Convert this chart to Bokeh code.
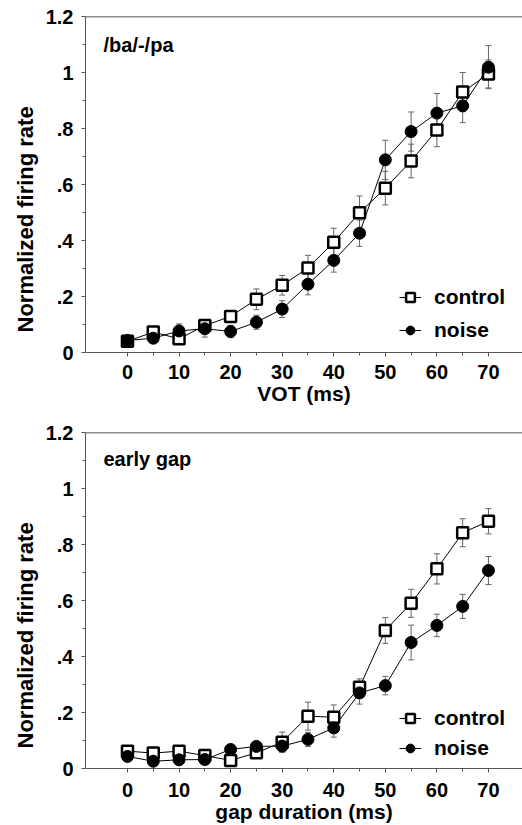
import numpy as np
from bokeh.plotting import figure
from bokeh.models import (ColumnDataSource, Whisker, TeeHead, FixedTicker, Span,
                          Label, Legend, LegendItem, Title)
from bokeh.layouts import column
from bokeh.embed import file_html
from bokeh.resources import INLINE

# ---------------- data ----------------
x_ms = [0, 5, 10, 15, 20, 25, 30, 35, 40, 45, 50, 55, 60, 65, 70]

vot_control = [0.040, 0.073, 0.049, 0.096, 0.129, 0.190, 0.240, 0.302, 0.394, 0.499,
               0.587, 0.684, 0.795, 0.930, 0.995]
vot_control_err = [0.012, 0.012, 0.010, 0.015, 0.020, 0.037, 0.035, 0.045, 0.050, 0.060,
                   0.060, 0.060, 0.060, 0.070, 0.050]
vot_noise = [0.043, 0.051, 0.077, 0.085, 0.075, 0.108, 0.155, 0.244, 0.329, 0.426,
             0.688, 0.789, 0.855, 0.881, 1.019]
vot_noise_err = [0.012, 0.010, 0.025, 0.030, 0.022, 0.025, 0.030, 0.038, 0.042, 0.047,
                 0.070, 0.070, 0.070, 0.060, 0.077]

gap_control = [0.062, 0.055, 0.062, 0.046, 0.029, 0.056, 0.094, 0.187, 0.183, 0.290,
               0.493, 0.590, 0.713, 0.842, 0.883]
gap_control_err = [0.010, 0.010, 0.010, 0.010, 0.010, 0.020, 0.036, 0.050, 0.044, 0.030,
                   0.046, 0.050, 0.054, 0.050, 0.045]
gap_noise = [0.043, 0.026, 0.031, 0.032, 0.068, 0.079, 0.080, 0.104, 0.145, 0.270,
             0.296, 0.450, 0.511, 0.579, 0.707]
gap_noise_err = [0.010, 0.010, 0.010, 0.010, 0.010, 0.015, 0.020, 0.025, 0.033, 0.040,
                 0.033, 0.062, 0.040, 0.043, 0.050]

x_ticks = [0, 10, 20, 30, 40, 50, 60, 70]
x_minor_ticks = [5, 15, 25, 35, 45, 55, 65]
y_ticks = [0, 0.2, 0.4, 0.6, 0.8, 1.0, 1.2]
y_tick_labels = ["0", ".2", ".4", ".6", ".8", "1", "1.2"]
y_minor_ticks = [0.1, 0.3, 0.5, 0.7, 0.9, 1.1]

series_labels = ["control", "noise"]
y_title = "Normalized firing rate"

FONT = "Liberation Sans"
AXIS_COLOR = "#555555"


def make_panel(panel_text, x_title, ctrl, ctrl_err, noise, noise_err,
               height, border_bottom, tick_standoff, title_standoff,
               legend_spacing, legend_bottom, panel_y):
    p = figure(width=522, height=height, x_range=(-8.14, 76.6), y_range=(0, 1.2),
               output_backend="svg", toolbar_location=None,
               min_border_left=85, min_border_right=0,
               min_border_top=16, min_border_bottom=border_bottom)
    p.outline_line_color = None
    p.grid.visible = False
    p.background_fill_color = "white"

    # axes
    p.xaxis.ticker = FixedTicker(ticks=x_ticks, minor_ticks=x_minor_ticks)
    p.yaxis.ticker = FixedTicker(ticks=y_ticks, minor_ticks=y_minor_ticks)
    p.yaxis.major_label_overrides = dict(zip(y_ticks, y_tick_labels))
    for ax in (p.xaxis[0], p.yaxis[0]):
        ax.axis_line_color = AXIS_COLOR
        ax.axis_line_width = 1
        ax.major_tick_line_color = AXIS_COLOR
        ax.minor_tick_line_color = AXIS_COLOR
        ax.major_tick_in = 0
        ax.minor_tick_in = 0
        ax.major_tick_out = 4
        ax.minor_tick_out = 3
        ax.major_label_text_font = FONT
        ax.major_label_text_font_style = "bold"
        ax.major_label_text_font_size = "20px"
        ax.major_label_text_color = "black"
        ax.axis_label_text_font = FONT
        ax.axis_label_text_font_style = "bold"
        ax.axis_label_text_color = "black"
    p.xaxis.axis_label = x_title
    p.xaxis.axis_label_text_font_size = "21px"
    p.xaxis.major_label_standoff = tick_standoff
    p.xaxis.axis_label_standoff = title_standoff
    p.yaxis.major_label_standoff = 8

    # y title, shifted below the frame centre as in the reference
    p.add_layout(Title(text=y_title, align="left", offset=20, standoff=10,
                       text_font=FONT, text_font_style="bold",
                       text_font_size="22px", text_color="black"), "left")

    # top border line
    p.add_layout(Span(location=1.2, dimension="width", line_color="#222222",
                      line_width=1.5))

    # error bars
    xs = np.array(x_ms, dtype=float)
    for vals, errs in ((ctrl, ctrl_err), (noise, noise_err)):
        v = np.array(vals)
        e = np.array(errs)
        src = ColumnDataSource(dict(base=xs, upper=v + e, lower=v - e))
        w = Whisker(base="base", upper="upper", lower="lower", source=src,
                    line_color="#666666", line_width=1,
                    upper_head=TeeHead(size=6, line_color="#666666", line_width=1),
                    lower_head=TeeHead(size=6, line_color="#666666", line_width=1))
        p.add_layout(w)

    lc = p.line(x_ms, ctrl, line_color="black", line_width=1)
    sc = p.scatter(x_ms, ctrl, marker="square", size=11, fill_color="white",
                   line_color="black", line_width=2.5)
    ln = p.line(x_ms, noise, line_color="black", line_width=1)
    sn = p.scatter(x_ms, noise, marker="circle", size=12, fill_color="black",
                   line_color="black", line_width=1)

    legend = Legend(items=[LegendItem(label=series_labels[0], renderers=[lc, sc]),
                           LegendItem(label=series_labels[1], renderers=[ln, sn])],
                    location=(314, legend_bottom))
    legend.padding = 0
    legend.margin = 0
    legend.border_line_color = None
    legend.background_fill_alpha = 0
    legend.glyph_width = 22
    legend.glyph_height = 24
    legend.label_height = 24
    legend.label_standoff = 13
    legend.spacing = legend_spacing
    legend.label_text_font = FONT
    legend.label_text_font_style = "bold"
    legend.label_text_font_size = "21px"
    legend.label_text_color = "black"
    p.add_layout(legend)

    p.add_layout(Label(x=18, y=panel_y, x_units="screen", y_units="screen",
                       text=panel_text, text_font=FONT, text_font_style="bold",
                       text_font_size="20px", text_baseline="middle",
                       text_color="black"))
    return p


p1 = make_panel("/ba/-/pa", "VOT (ms)", vot_control, vot_control_err,
                vot_noise, vot_noise_err,
                height=416, border_bottom=64, tick_standoff=8, title_standoff=0,
                legend_spacing=9, legend_bottom=10, panel_y=308)
p2 = make_panel("early gap", "gap duration (ms)", gap_control, gap_control_err,
                gap_noise, gap_noise_err,
                height=409, border_bottom=57, tick_standoff=10, title_standoff=0,
                legend_spacing=6, legend_bottom=8, panel_y=310)

layout = column(p1, p2)
open("out.html", "w").write(file_html(layout, INLINE))
